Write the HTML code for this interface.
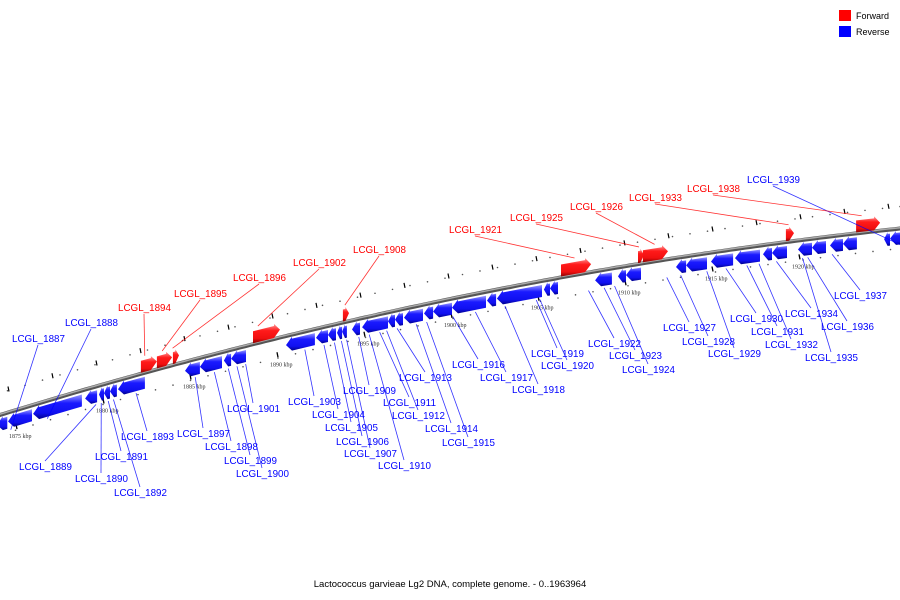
<!DOCTYPE html>
<html><head><meta charset="utf-8"><style>
html,body{margin:0;padding:0;background:#fff;}
svg{display:block;font-family:"Liberation Sans",sans-serif;}
</style></head><body>
<svg id="c" width="900" height="600" viewBox="0 0 900 600">
<defs>
<linearGradient id="gb" x1="0" y1="0" x2="0" y2="1"><stop offset="0" stop-color="#9a9aff"/><stop offset="0.35" stop-color="#1a1aff"/><stop offset="0.75" stop-color="#1010f0"/><stop offset="1" stop-color="#00008a"/></linearGradient>
<linearGradient id="gr" x1="0" y1="0" x2="0" y2="1"><stop offset="0" stop-color="#ff9a9a"/><stop offset="0.35" stop-color="#ff1a1a"/><stop offset="0.75" stop-color="#f01010"/><stop offset="1" stop-color="#8a0000"/></linearGradient>
</defs>
<g>
<rect x="839" y="10" width="12" height="11" fill="#f00"/>
<text x="856" y="19" font-size="9">Forward</text>
<rect x="839" y="26" width="12" height="11" fill="#00f"/>
<text x="856" y="35" font-size="9">Reverse</text>
</g>
<text x="450" y="587" font-size="9.5" text-anchor="middle">Lactococcus garvieae Lg2 DNA, complete genome. - 0..1963964</text>
<g id="marks"></g>
</svg>
<script>
const tickKbp = [1875,1880,1885,1890,1895,1900,1905,1910,1915,1920];
const revStarts = [1873.9,1874.54,1875.98,1878.97,1879.77,1880.06,1880.40,1880.86,1884.71,1885.57,1886.95,1887.36,1890.52,1892.24,1892.93,1893.45,1893.74,1894.31,1894.89,1896.38,1896.78,1897.30,1898.45,1898.97,1900.06,1902.07,1902.64,1905.34,1905.69,1908.28,1909.60,1910.06,1912.93,1913.51,1914.94,1916.32,1917.93,1918.45,1919.94,1920.75,1921.78,1922.53,1924.89,1925.23];
const revEnds   = [1874.5,1875.92,1878.79,1879.66,1880.06,1880.40,1880.80,1882.41,1885.57,1886.84,1887.36,1888.22,1892.18,1892.93,1893.39,1893.74,1894.02,1894.77,1896.38,1896.78,1897.24,1898.39,1898.97,1900.06,1902.01,1902.59,1905.23,1905.69,1906.15,1909.25,1910.06,1910.92,1913.51,1914.71,1916.21,1917.76,1918.45,1919.31,1920.75,1921.55,1922.53,1923.33,1925.23,1926.4];
const fwdStarts = [1882.18,1883.10,1884.02,1888.62,1893.79,1906.32,1910.75,1911.03,1919.25,1923.28];
const fwdEnds   = [1883.10,1883.97,1884.37,1890.17,1894.14,1908.05,1911.09,1912.47,1919.71,1924.66];
const labelNames = ["1887","1888","1889","1890","1891","1892","1893","1897","1898","1899","1900","1901","1903","1904","1905","1906","1907","1909","1910","1911","1912","1913","1914","1915","1916","1917","1918","1919","1920","1922","1923","1924","1927","1928","1929","1930","1931","1932","1934","1935","1936","1937","1939","1894","1895","1896","1902","1908","1921","1925","1926","1933","1938"];
const labelStrand = ["r","r","r","r","r","r","r","r","r","r","r","r","r","r","r","r","r","r","r","r","r","r","r","r","r","r","r","r","r","r","r","r","r","r","r","r","r","r","r","r","r","r","r","f","f","f","f","f","f","f","f","f","f"];
const labelX = [12,65,19,75,95,114,121,177,205,224,236,227,288,312,325,336,344,343,378,383,392,399,425,442,452,480,512,531,541,588,609,622,663,682,708,730,751,765,785,805,821,834,747,118,174,233,293,353,449,510,570,629,687];
const labelY = [338,322,466,478,456,492,436,433,446,460,473,408,401,414,427,441,453,390,465,402,415,377,428,442,364,377,389,353,365,343,355,369,327,341,353,318,331,344,313,357,326,295,179,307,293,277,262,249,229,217,206,197,188];
const leaderKbp = [1874.7,1876.8,1879.6,1879.9,1880.3,1880.6,1881.9,1885.3,1886.4,1887.2,1887.7,1888.2,1891.6,1892.7,1893.3,1893.7,1894.0,1894.7,1895.3,1895.9,1896.3,1896.9,1898.0,1898.6,1900.1,1901.4,1903.1,1904.9,1905.1,1907.9,1908.8,1909.4,1912.4,1913.2,1914.7,1915.8,1917.0,1917.7,1918.7,1920.2,1920.5,1921.9,1926.0,1882.4,1883.4,1884.0,1888.9,1893.9,1907.1,1910.8,1911.7,1919.4,1923.6];

const NS="http://www.w3.org/2000/svg";
const g=document.getElementById('marks');
function xk(k){return 16+(k-1875)*17.4;}
function yc(x){return 415-0.308*x+1.12e-4*x*x;}
function mk(t,a){const e=document.createElementNS(NS,t);for(const k in a)e.setAttribute(k,a[k]);g.appendChild(e);return e;}

for(let x=-10;x<920;x+=17.5){
  const d1=mk('circle',{cx:x,cy:yc(x)-22,r:0.8,fill:'#555'});
  
  
  const d2=mk('circle',{cx:x+8,cy:yc(x+8)+20,r:0.8,fill:'#555'});
  
  
}
for(let x=8;x<920;x+=44){
  const tm=mk('line',{x1:x,y1:yc(x)-26,x2:x+1,y2:yc(x)-21,stroke:'#000','stroke-width':1.2});
  
  
}
let dpath='';for(let x=-5;x<=905;x+=5)dpath+=(x===-5?'M':'L')+x+','+yc(x).toFixed(1);
const ax2=mk('path',{d:dpath,stroke:'#555',fill:'none','stroke-width':4});


const ax3=mk('path',{d:dpath,stroke:'#aaa',fill:'none','stroke-width':1.5,transform:'translate(0,-0.8)'});



tickKbp.forEach(k=>{
  const x=xk(k),y=yc(x);
  const t=mk('line',{x1:x,y1:y+14,x2:x+1,y2:y+19,stroke:'#000','stroke-width':1.3});
  
  
  const tx=mk('text',{x:x-7,y:y+28,'font-size':6,'font-family':'Liberation Serif, serif',fill:'#333'});
  tx.textContent=k+' kbp';
  
  
});

function gene(k1,k2,fwd){
  const x1=xk(k1),x2=xk(k2),len=x2-x1,ah=Math.min(6,len*0.6);
  const o1=fwd?-15:2,o2=fwd?-1:16,om=(o1+o2)/2;
  let pts;
  if(fwd){
    pts=[[x1,yc(x1)+o1+2],[x2-ah,yc(x2-ah)+o1+2],[x2-ah,yc(x2-ah)+o1],[x2,yc(x2)+om],[x2-ah,yc(x2-ah)+o2],[x1,yc(x1)+o2]];
  }else{
    pts=[[x2,yc(x2)+o1+2],[x1+ah,yc(x1+ah)+o1+2],[x1+ah,yc(x1+ah)+o1],[x1,yc(x1)+om],[x1+ah,yc(x1+ah)+o2],[x2,yc(x2)+o2]];
  }
  return mk('polygon',{points:pts.map(q=>q[0].toFixed(1)+','+q[1].toFixed(1)).join(' '),fill:fwd?'url(#gr)':'url(#gb)'});
}
revStarts.forEach((s,i)=>{
  const p=gene(s,revEnds[i],false);
  
  
});
fwdStarts.forEach((s,i)=>{
  const p=gene(s,fwdEnds[i],true);
  
  
});

labelNames.forEach((n,i)=>{
  const f=labelStrand[i]==='f',col=f?'#f00':'#00f';
  const gx=xk(leaderKbp[i]),gy=yc(gx)+(f?-17:18);
  const lx=labelX[i]+26,ly=labelY[i]+(gy>labelY[i]?7:-5);
  const ln=mk('line',{x1:lx,y1:ly,x2:gx,y2:gy,stroke:col,'stroke-width':0.8,opacity:0.8});
  
  
  const t=mk('text',{x:labelX[i],y:labelY[i]+4,'font-size':10.5,fill:col,textLength:53,lengthAdjust:'spacingAndGlyphs'});
  t.textContent='LCGL_'+n;
  
  
});
</script>
</body></html>
